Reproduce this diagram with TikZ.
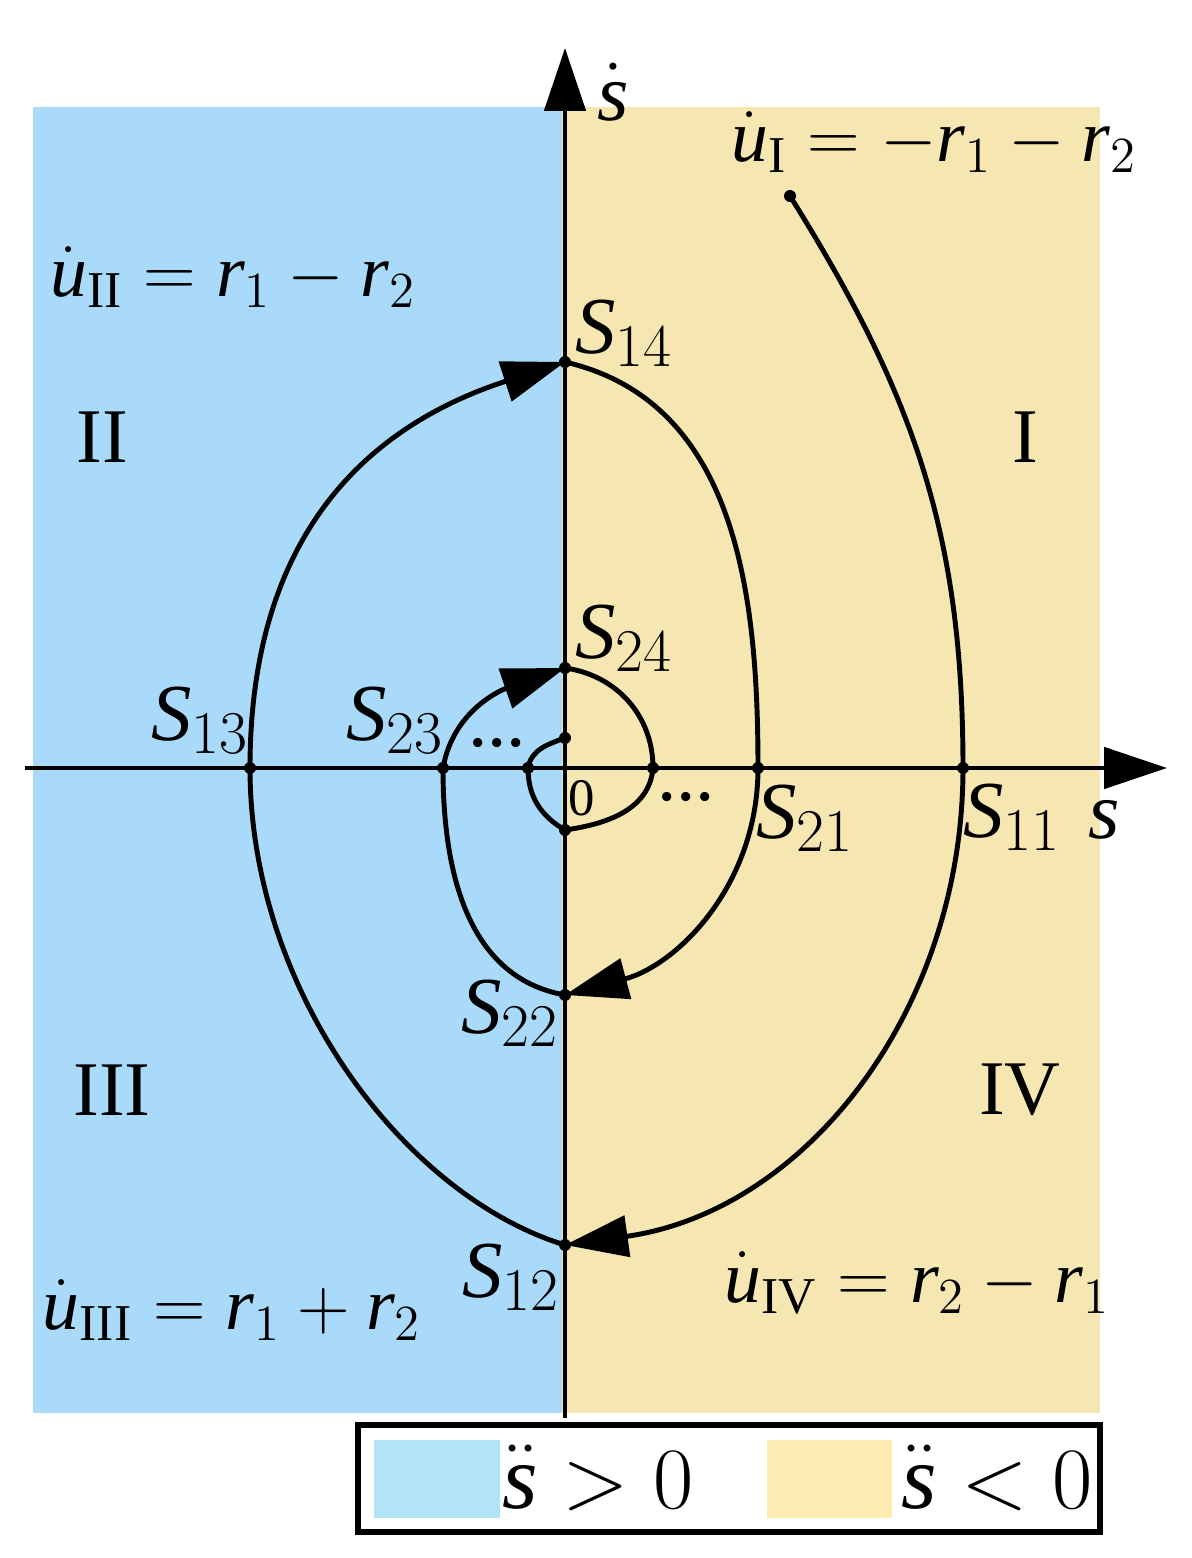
\documentclass[tikz,border=0pt]{standalone}
\usepackage{fontspec}
\setmainfont{Liberation Serif}
\usetikzlibrary{arrows.meta}
\definecolor{accblue}{RGB}{170,218,250}
\definecolor{decyellow}{RGB}{246,230,178}
\definecolor{keyblue}{RGB}{178,228,248}
\definecolor{keyyellow}{RGB}{255,236,178}
\newcommand{\mi}[1]{\textit{#1}}
\tikzset{
  tip/.style={-{Triangle[length=6.3mm,width=4.1mm]}},
  traj/.style={line width=1.4pt},
  lbl/.style={inner sep=0pt,font=\fontsize{23}{26}\selectfont},
  eqn/.style={inner sep=0pt,font=\fontsize{21}{24}\selectfont},
  quad/.style={inner sep=0pt,font=\fontsize{22}{24}\selectfont},
  key/.style={inner sep=0pt,font=\fontsize{26}{28}\selectfont},
  etc/.style={inner sep=0pt,font=\fontsize{22}{24}\selectfont}
}
\begin{document}
\begin{tikzpicture}
\useasboundingbox (0,0) rectangle (11.91,15.58);

% regions of the phase plane
\fill[accblue] (0.33,1.45) rectangle (5.62,14.51);
\fill[decyellow] (5.62,1.45) rectangle (11.00,14.51);

% axes
\coordinate (xl) at (0.25,7.90);
\coordinate (xr) at (11.67,7.90);
\coordinate (yb) at (5.65,1.40);
\coordinate (yt) at (5.65,15.10);
\draw[traj,tip] (xl) -- (xr);
\draw[traj,tip] (yb) -- (yt);

% switching points
\coordinate (A) at (7.90,13.62);
\coordinate (S11) at (9.63,7.90);
\coordinate (S12) at (5.65,3.13);
\coordinate (S13) at (2.50,7.90);
\coordinate (S14) at (5.65,11.96);
\coordinate (S21) at (7.58,7.90);
\coordinate (S22) at (5.65,5.63);
\coordinate (S23) at (4.43,7.90);
\coordinate (S24) at (5.65,8.90);
\coordinate (P2) at (6.53,7.90);
\coordinate (P3) at (5.65,7.28);
\coordinate (P1) at (5.28,7.90);
\coordinate (C0) at (5.65,8.20);

% trajectory
\draw[traj,tip] (A) to[out=-58,in=90] (S11) to[out=-90,in=8] (S12);
\draw[traj,tip] (S12) to[out=163,in=-90,out looseness=0.75,in looseness=1] (S13)
  to[out=90,in=198,looseness=1.1] (S14);
\draw[traj,tip] (S14) to[out=-13,in=90] (S21) to[out=-90,in=15] (S22);
\draw[traj,tip] (S22) to[out=170,in=-90] (S23) to[out=80,in=199] (S24);
\draw[traj] (S24) to[out=-8,in=90] (P2) to[out=-95,in=8] (P3)
  to[out=150,in=-90] (P1) to[out=80,in=200] (C0);

\foreach \p in {A,S11,S12,S13,S14,S21,S22,S23,S24,P1,P2,P3,C0}
  \fill (\p) circle (0.06);

% labels
\node[lbl] (lsd) at (6.13,14.66) {$\dot{\mi{s}}$};
\node[lbl] (ls) at (11.04,7.38) {\mi{s}};
\node[inner sep=0pt,font=\fontsize{15}{16}\selectfont] (l0) at (5.82,7.60) {0};
\node[lbl] (l11) at (10.12,7.41) {$\mi{S}_{11}$};
\node[lbl] (l12) at (5.11,2.81) {$\mi{S}_{12}$};
\node[lbl] (l13) at (2.00,8.38) {$\mi{S}_{13}$};
\node[lbl] (l14) at (6.24,12.25) {$\mi{S}_{14}$};
\node[lbl] (l21) at (8.05,7.40) {$\mi{S}_{21}$};
\node[lbl] (l22) at (5.10,5.45) {$\mi{S}_{22}$};
\node[lbl] (l23) at (3.95,8.38) {$\mi{S}_{23}$};
\node[lbl] (l24) at (6.24,9.20) {$\mi{S}_{24}$};
\node[etc] (dl) at (4.97,8.15) {...};
\node[etc] (dr) at (6.86,7.61) {...};

\node[quad] (qI) at (10.25,11.21) {I};
\node[quad] (qII) at (1.02,11.21) {II};
\node[quad] (qIII) at (1.12,4.68) {III};
\node[quad] (qIV) at (10.20,4.68) {IV};

\node[eqn] (uI) at (9.34,14.16) {$\dot{\mi{u}}_{\mathrm{I}}=-\mi{r}_1-\mi{r}_2$};
\node[eqn] (uII) at (2.33,12.81) {$\dot{\mi{u}}_{\mathrm{II}}=\mi{r}_1-\mi{r}_2$};
\node[eqn] (uIII) at (2.32,2.48) {$\dot{\mi{u}}_{\mathrm{III}}=\mi{r}_1+\mi{r}_2$};
\node[eqn] (uIV) at (9.17,2.75) {$\dot{\mi{u}}_{\mathrm{IV}}=\mi{r}_2-\mi{r}_1$};

% legend
\draw[line width=1.7pt] (3.58,0.26) rectangle (11.00,1.33);
\fill[keyblue] (3.74,0.40) rectangle (5.00,1.18);
\node[key] (kpos) at (5.98,0.80) {$\ddot{\mi{s}}>0$};
\fill[keyyellow] (7.67,0.40) rectangle (8.92,1.18);
\node[key] (kneg) at (9.97,0.80) {$\ddot{\mi{s}}<0$};
\end{tikzpicture}
\end{document}
